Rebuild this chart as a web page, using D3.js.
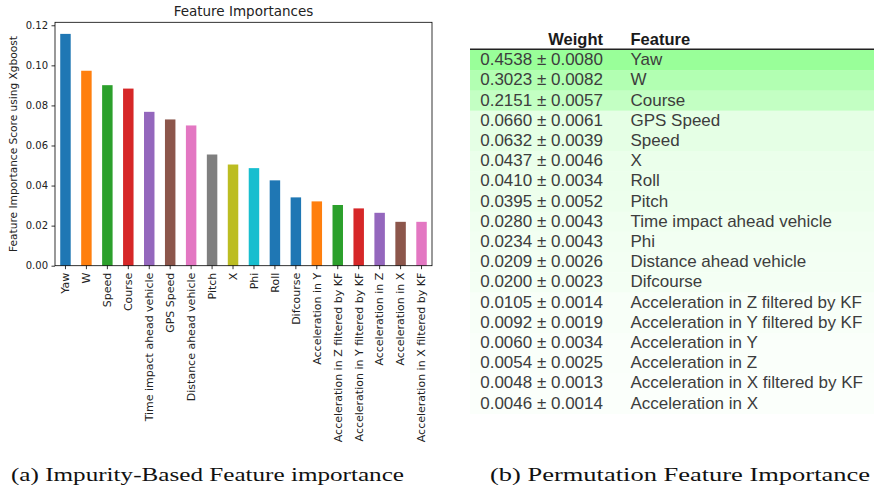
<!DOCTYPE html>
<html>
<head>
<meta charset="utf-8">
<script src="https://cdn.jsdelivr.net/npm/d3@7.9.0/dist/d3.min.js"></script>
<style>
  body { margin: 0; background: #fff; }
  svg { display: block; }
</style>
</head>
<body>
<svg id="fig" width="874" height="492"></svg>
<script>
// (a) impurity based importances
const impurityFeatures = ['Yaw', 'W', 'Speed', 'Course', 'Time impact ahead vehicle', 'GPS Speed',
  'Distance ahead vehicle', 'Pitch', 'X', 'Phi', 'Roll', 'Difcourse', 'Acceleration in Y',
  'Acceleration in Z filtered by KF', 'Acceleration in Y filtered by KF', 'Acceleration in Z',
  'Acceleration in X', 'Acceleration in X filtered by KF'];
const impurityScores = [0.1157, 0.0973, 0.0901, 0.0884, 0.0768, 0.0730, 0.0700, 0.0555, 0.0505,
  0.0487, 0.0426, 0.0341, 0.0321, 0.0303, 0.0286, 0.0264, 0.0219, 0.0219];
const barColors = ['#1f77b4', '#ff7f0e', '#2ca02c', '#d62728', '#9467bd', '#8c564b', '#e377c2',
  '#7f7f7f', '#bcbd22', '#17becf', '#1f77b4', '#1f77b4', '#ff7f0e', '#2ca02c', '#d62728',
  '#9467bd', '#8c564b', '#e377c2'];
const yTicks = [0, 0.02, 0.04, 0.06, 0.08, 0.10, 0.12];

// (b) permutation importances (eli5 table)
const permFeatures = ['Yaw', 'W', 'Course', 'GPS Speed', 'Speed', 'X', 'Roll', 'Pitch',
  'Time impact ahead vehicle', 'Phi', 'Distance ahead vehicle', 'Difcourse',
  'Acceleration in Z filtered by KF', 'Acceleration in Y filtered by KF', 'Acceleration in Y',
  'Acceleration in Z', 'Acceleration in X filtered by KF', 'Acceleration in X'];
const permWeights = [0.4538, 0.3023, 0.2151, 0.0660, 0.0632, 0.0437, 0.0410, 0.0395, 0.0280,
  0.0234, 0.0209, 0.0200, 0.0105, 0.0092, 0.0060, 0.0054, 0.0048, 0.0046];
const permStd = [0.0080, 0.0082, 0.0057, 0.0061, 0.0039, 0.0046, 0.0034, 0.0052, 0.0043,
  0.0043, 0.0026, 0.0023, 0.0014, 0.0019, 0.0034, 0.0025, 0.0013, 0.0014];

const captions = ['(a) Impurity-Based Feature importance', '(b) Permutation Feature Importance'];

const svg = d3.select('#fig');
svg.append('rect').attr('width', 874).attr('height', 492).attr('fill', '#fff');

// ---------- bar chart ----------
const plot = { left: 55, right: 432, top: 22.3, bottom: 265.7 };
const mplFont = 'DejaVu Sans, sans-serif';

const x = d3.scaleBand()
  .domain(impurityFeatures)
  .range([plot.left, plot.right])
  .paddingInner(0.5)
  .paddingOuter(0.25);

const y = d3.scaleLinear()
  .domain([0, d3.max(impurityScores) * 1.05])
  .range([plot.bottom, plot.top]);

const chart = svg.append('g');

chart.append('g')
  .selectAll('rect')
  .data(impurityFeatures)
  .join('rect')
  .attr('x', (d) => x(d))
  .attr('y', (d, i) => y(impurityScores[i]))
  .attr('width', x.bandwidth())
  .attr('height', (d, i) => y(0) - y(impurityScores[i]))
  .attr('fill', (d, i) => barColors[i]);

const yAxis = chart.append('g')
  .attr('transform', `translate(${plot.left},0)`)
  .call(d3.axisLeft(y).tickValues(yTicks).tickFormat(d3.format('.2f')).tickSize(3.5).tickPadding(3.5));

const xAxis = chart.append('g')
  .attr('transform', `translate(0,${plot.bottom})`)
  .call(d3.axisBottom(x).tickSize(3.5).tickPadding(3.5));

[yAxis, xAxis].forEach((ax) => {
  ax.select('.domain').remove();
  ax.selectAll('line').attr('stroke', '#000').attr('stroke-width', 0.8);
  ax.selectAll('text').attr('fill', '#222').style('font-family', mplFont).style('font-size', '10px');
});

xAxis.selectAll('text')
  .style('font-size', '11px')
  .attr('transform', 'rotate(-90)')
  .attr('text-anchor', 'end')
  .attr('x', -7)
  .attr('y', 0)
  .attr('dy', '0.35em');

// frame
chart.append('rect')
  .attr('x', plot.left)
  .attr('y', plot.top)
  .attr('width', plot.right - plot.left)
  .attr('height', plot.bottom - plot.top)
  .attr('fill', 'none')
  .attr('stroke', '#000')
  .attr('stroke-width', 0.8);

chart.append('text')
  .attr('x', (plot.left + plot.right) / 2)
  .attr('y', 15.5)
  .attr('text-anchor', 'middle')
  .style('font-family', mplFont)
  .style('font-size', '13.5px')
  .attr('fill', '#222')
  .text('Feature Importances');

chart.append('text')
  .attr('transform', `translate(16.5,${(plot.top + plot.bottom) / 2}) rotate(-90)`)
  .attr('text-anchor', 'middle')
  .style('font-family', mplFont)
  .style('font-size', '10.6px')
  .attr('fill', '#222')
  .text('Feature Importance Score using Xgboost');

// ---------- eli5 table ----------
const table = { left: 470, right: 874, top: 50, weightX: 603, featureX: 630.5 };
const tableFont = 'Liberation Sans, Arial, sans-serif';

const row = d3.scaleBand()
  .domain(d3.range(permFeatures.length))
  .range([table.top, table.top + 20.2 * permFeatures.length]);

const maxW = d3.max(permWeights);
// eli5 colouring: lightness 1 - 0.2 * (w / max)^0.7
const rowColor = (w) => d3.hsl(120, 1, 1 - 0.2 * Math.pow(w / maxW, 0.7)).toString();

const tbl = svg.append('g');

const rows = tbl.selectAll('g.row')
  .data(permFeatures)
  .join('g')
  .attr('class', 'row')
  .attr('transform', (d, i) => `translate(0,${row(i)})`);

rows.append('rect')
  .attr('x', table.left)
  .attr('width', table.right - table.left)
  .attr('height', row.bandwidth() + 0.5)
  .attr('fill', (d, i) => rowColor(permWeights[i]));

rows.append('text')
  .attr('x', table.weightX)
  .attr('y', 15.3)
  .attr('text-anchor', 'end')
  .style('font-family', tableFont)
  .style('font-size', '17px')
  .attr('fill', '#3d3d3d')
  .text((d, i) => `${permWeights[i].toFixed(4)} \u00b1 ${permStd[i].toFixed(4)}`);

rows.append('text')
  .attr('x', table.featureX)
  .attr('y', 15.3)
  .style('font-family', tableFont)
  .style('font-size', '17px')
  .attr('fill', '#3d3d3d')
  .text((d) => d);

tbl.append('text')
  .attr('x', table.weightX)
  .attr('y', 44.7)
  .attr('text-anchor', 'end')
  .style('font-family', tableFont)
  .style('font-size', '16.5px')
  .style('font-weight', 'bold')
  .attr('fill', '#1a1a1a')
  .text('Weight');

tbl.append('text')
  .attr('x', table.featureX)
  .attr('y', 44.7)
  .style('font-family', tableFont)
  .style('font-size', '16.5px')
  .style('font-weight', 'bold')
  .attr('fill', '#1a1a1a')
  .text('Feature');

tbl.append('line')
  .attr('x1', table.left)
  .attr('x2', table.right)
  .attr('y1', 49.2)
  .attr('y2', 49.2)
  .attr('stroke', '#222')
  .attr('stroke-width', 1.5);

// ---------- captions ----------
const captionPos = [[11, 404], [490, 870]];
svg.selectAll('text.caption')
  .data(captions)
  .join('text')
  .attr('class', 'caption')
  .attr('x', (d, i) => captionPos[i][0])
  .attr('y', 481)
  .attr('textLength', (d, i) => captionPos[i][1] - captionPos[i][0])
  .attr('lengthAdjust', 'spacingAndGlyphs')
  .style('font-family', 'Liberation Serif, Times New Roman, serif')
  .style('font-size', '19.5px')
  .attr('fill', '#111')
  .text((d) => d);
</script>
</body>
</html>
